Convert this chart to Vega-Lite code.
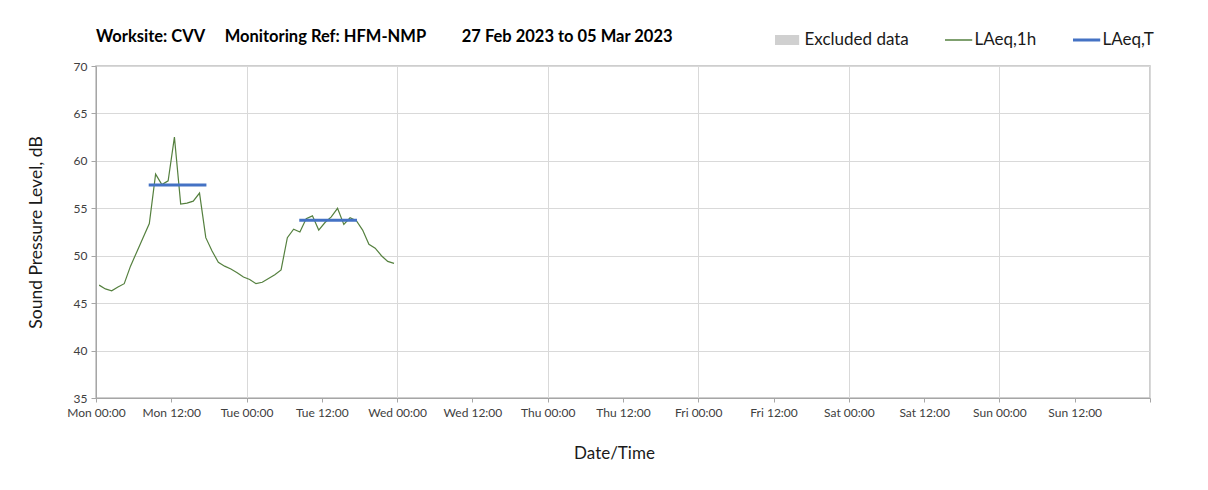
{
  "$schema": "https://vega.github.io/schema/vega-lite/v6.json",
  "autosize": {"type": "none"},
  "width": 1054,
  "height": 332,
  "padding": {"left": 96, "top": 66, "right": 58, "bottom": 92},
  "background": "white",
  "config": {
    "font": "Lato",
    "view": {"stroke": "#bfbfbf", "strokeWidth": 1.5},
    "axis": {"labelColor": "#404040", "titleColor": "#1a1a1a", "titleFontWeight": "normal", "domainColor": "#a6a6a6", "tickColor": "#a6a6a6", "gridColor": "#d9d9d9"}
  },
  "title": {
    "text": "Worksite: CVV\u00a0\u00a0\u00a0\u00a0 Monitoring Ref: HFM-NMP\u00a0\u00a0\u00a0\u00a0\u00a0\u00a0\u00a0\u00a0 27 Feb 2023 to 05 Mar 2023",
    "anchor": "start",
    "frame": "group",
    "fontSize": 16.5,
    "fontWeight": "bold",
    "color": "#000000",
    "offset": -15
  },
  "datasets": {
    "hourly": [
      {"t": "2023-02-27T00:30", "db": 46.9, "series": "LAeq,1h"},
      {"t": "2023-02-27T01:30", "db": 46.5, "series": "LAeq,1h"},
      {"t": "2023-02-27T02:30", "db": 46.3, "series": "LAeq,1h"},
      {"t": "2023-02-27T03:30", "db": 46.7, "series": "LAeq,1h"},
      {"t": "2023-02-27T04:30", "db": 47.05, "series": "LAeq,1h"},
      {"t": "2023-02-27T05:30", "db": 48.9, "series": "LAeq,1h"},
      {"t": "2023-02-27T06:30", "db": 50.4, "series": "LAeq,1h"},
      {"t": "2023-02-27T07:30", "db": 51.9, "series": "LAeq,1h"},
      {"t": "2023-02-27T08:30", "db": 53.4, "series": "LAeq,1h"},
      {"t": "2023-02-27T09:30", "db": 58.6, "series": "LAeq,1h"},
      {"t": "2023-02-27T10:30", "db": 57.5, "series": "LAeq,1h"},
      {"t": "2023-02-27T11:30", "db": 57.9, "series": "LAeq,1h"},
      {"t": "2023-02-27T12:30", "db": 62.5, "series": "LAeq,1h"},
      {"t": "2023-02-27T13:30", "db": 55.45, "series": "LAeq,1h"},
      {"t": "2023-02-27T14:30", "db": 55.55, "series": "LAeq,1h"},
      {"t": "2023-02-27T15:30", "db": 55.75, "series": "LAeq,1h"},
      {"t": "2023-02-27T16:30", "db": 56.6, "series": "LAeq,1h"},
      {"t": "2023-02-27T17:30", "db": 51.9, "series": "LAeq,1h"},
      {"t": "2023-02-27T18:30", "db": 50.5, "series": "LAeq,1h"},
      {"t": "2023-02-27T19:30", "db": 49.3, "series": "LAeq,1h"},
      {"t": "2023-02-27T20:30", "db": 48.9, "series": "LAeq,1h"},
      {"t": "2023-02-27T21:30", "db": 48.6, "series": "LAeq,1h"},
      {"t": "2023-02-27T22:30", "db": 48.2, "series": "LAeq,1h"},
      {"t": "2023-02-27T23:30", "db": 47.75, "series": "LAeq,1h"},
      {"t": "2023-02-28T00:30", "db": 47.5, "series": "LAeq,1h"},
      {"t": "2023-02-28T01:30", "db": 47.05, "series": "LAeq,1h"},
      {"t": "2023-02-28T02:30", "db": 47.2, "series": "LAeq,1h"},
      {"t": "2023-02-28T03:30", "db": 47.6, "series": "LAeq,1h"},
      {"t": "2023-02-28T04:30", "db": 48.0, "series": "LAeq,1h"},
      {"t": "2023-02-28T05:30", "db": 48.5, "series": "LAeq,1h"},
      {"t": "2023-02-28T06:30", "db": 51.9, "series": "LAeq,1h"},
      {"t": "2023-02-28T07:30", "db": 52.8, "series": "LAeq,1h"},
      {"t": "2023-02-28T08:30", "db": 52.5, "series": "LAeq,1h"},
      {"t": "2023-02-28T09:30", "db": 53.9, "series": "LAeq,1h"},
      {"t": "2023-02-28T10:30", "db": 54.2, "series": "LAeq,1h"},
      {"t": "2023-02-28T11:30", "db": 52.7, "series": "LAeq,1h"},
      {"t": "2023-02-28T12:30", "db": 53.5, "series": "LAeq,1h"},
      {"t": "2023-02-28T13:30", "db": 54.1, "series": "LAeq,1h"},
      {"t": "2023-02-28T14:30", "db": 55.0, "series": "LAeq,1h"},
      {"t": "2023-02-28T15:30", "db": 53.3, "series": "LAeq,1h"},
      {"t": "2023-02-28T16:30", "db": 54.0, "series": "LAeq,1h"},
      {"t": "2023-02-28T17:30", "db": 53.7, "series": "LAeq,1h"},
      {"t": "2023-02-28T18:30", "db": 52.7, "series": "LAeq,1h"},
      {"t": "2023-02-28T19:30", "db": 51.2, "series": "LAeq,1h"},
      {"t": "2023-02-28T20:30", "db": 50.8, "series": "LAeq,1h"},
      {"t": "2023-02-28T21:30", "db": 50.0, "series": "LAeq,1h"},
      {"t": "2023-02-28T22:30", "db": 49.4, "series": "LAeq,1h"},
      {"t": "2023-02-28T23:30", "db": 49.2, "series": "LAeq,1h"}
    ],
    "period": [
      {"t": "2023-02-27T08:24", "db": 57.45, "series": "LAeq,T", "seg": "Mon"},
      {"t": "2023-02-27T17:36", "db": 57.45, "series": "LAeq,T", "seg": "Mon"},
      {"t": "2023-02-28T08:24", "db": 53.75, "series": "LAeq,T", "seg": "Tue"},
      {"t": "2023-02-28T17:36", "db": 53.75, "series": "LAeq,T", "seg": "Tue"}
    ]
  },
  "encoding": {
    "x": {
      "field": "t",
      "type": "temporal",
      "title": "Date/Time",
      "scale": {"domain": [{"year": 2023, "month": 2, "date": 27, "hours": 0}, {"year": 2023, "month": 3, "date": 6, "hours": 0}]},
      "axis": {
        "values": [
          {"year": 2023, "month": 2, "date": 27, "hours": 0},
          {"year": 2023, "month": 2, "date": 27, "hours": 12},
          {"year": 2023, "month": 2, "date": 28, "hours": 0},
          {"year": 2023, "month": 2, "date": 28, "hours": 12},
          {"year": 2023, "month": 3, "date": 1, "hours": 0},
          {"year": 2023, "month": 3, "date": 1, "hours": 12},
          {"year": 2023, "month": 3, "date": 2, "hours": 0},
          {"year": 2023, "month": 3, "date": 2, "hours": 12},
          {"year": 2023, "month": 3, "date": 3, "hours": 0},
          {"year": 2023, "month": 3, "date": 3, "hours": 12},
          {"year": 2023, "month": 3, "date": 4, "hours": 0},
          {"year": 2023, "month": 3, "date": 4, "hours": 12},
          {"year": 2023, "month": 3, "date": 5, "hours": 0},
          {"year": 2023, "month": 3, "date": 5, "hours": 12},
          {"year": 2023, "month": 3, "date": 6, "hours": 0}
        ],
        "labelExpr": "month(datum.value) == 2 && date(datum.value) == 6 ? '' : timeFormat(datum.value, '%a %H:%M')",
        "labelOverlap": false,
        "labelFlush": false,
        "labelFontSize": 12,
        "labelPadding": 5,
        "tickSize": 4,
        "gridColor": {"condition": {"test": "hours(datum.value) == 0", "value": "#d9d9d9"}, "value": "transparent"},
        "titleFontSize": 17,
        "titlePadding": 27,
        "titleX": 518
      }
    },
    "y": {
      "field": "db",
      "type": "quantitative",
      "title": "Sound Pressure Level, dB",
      "scale": {"domain": [35, 70], "nice": false, "zero": false},
      "axis": {
        "values": [35, 40, 45, 50, 55, 60, 65, 70],
        "labelFontSize": 12,
        "labelPadding": 4,
        "tickSize": 5,
        "titleFontSize": 17.5,
        "titlePadding": 28
      }
    },
    "color": {
      "field": "series",
      "type": "nominal",
      "scale": {"domain": ["Excluded data", "LAeq,1h", "LAeq,T"], "range": ["#d0d0d0", "#55803f", "#4472c4"]},
      "legend": {
        "title": null,
        "orient": "none",
        "direction": "horizontal",
        "legendX": 679,
        "legendY": -36,
        "symbolType": "stroke",
        "symbolSize": 900,
        "clipHeight": 20,
        "labelFontSize": 17,
        "labelColor": "#1a1a1a",
        "labelOffset": 12.5,
        "columnPadding": 36,
        "encode": {
          "symbols": {
            "update": {
              "size": {"signal": "datum.label == 'Excluded data' ? 980 : 1400"},
              "strokeWidth": {"signal": "datum.label == 'Excluded data' ? 10 : datum.label == 'LAeq,T' ? 3 : 1.3"}
            }
          }
        }
      }
    }
  },
  "layer": [
    {"data": {"name": "hourly"}, "mark": {"type": "line", "strokeWidth": 1.2}},
    {"data": {"name": "period"}, "mark": {"type": "line", "strokeWidth": 3}, "encoding": {"detail": {"field": "seg", "type": "nominal"}}}
  ]
}
